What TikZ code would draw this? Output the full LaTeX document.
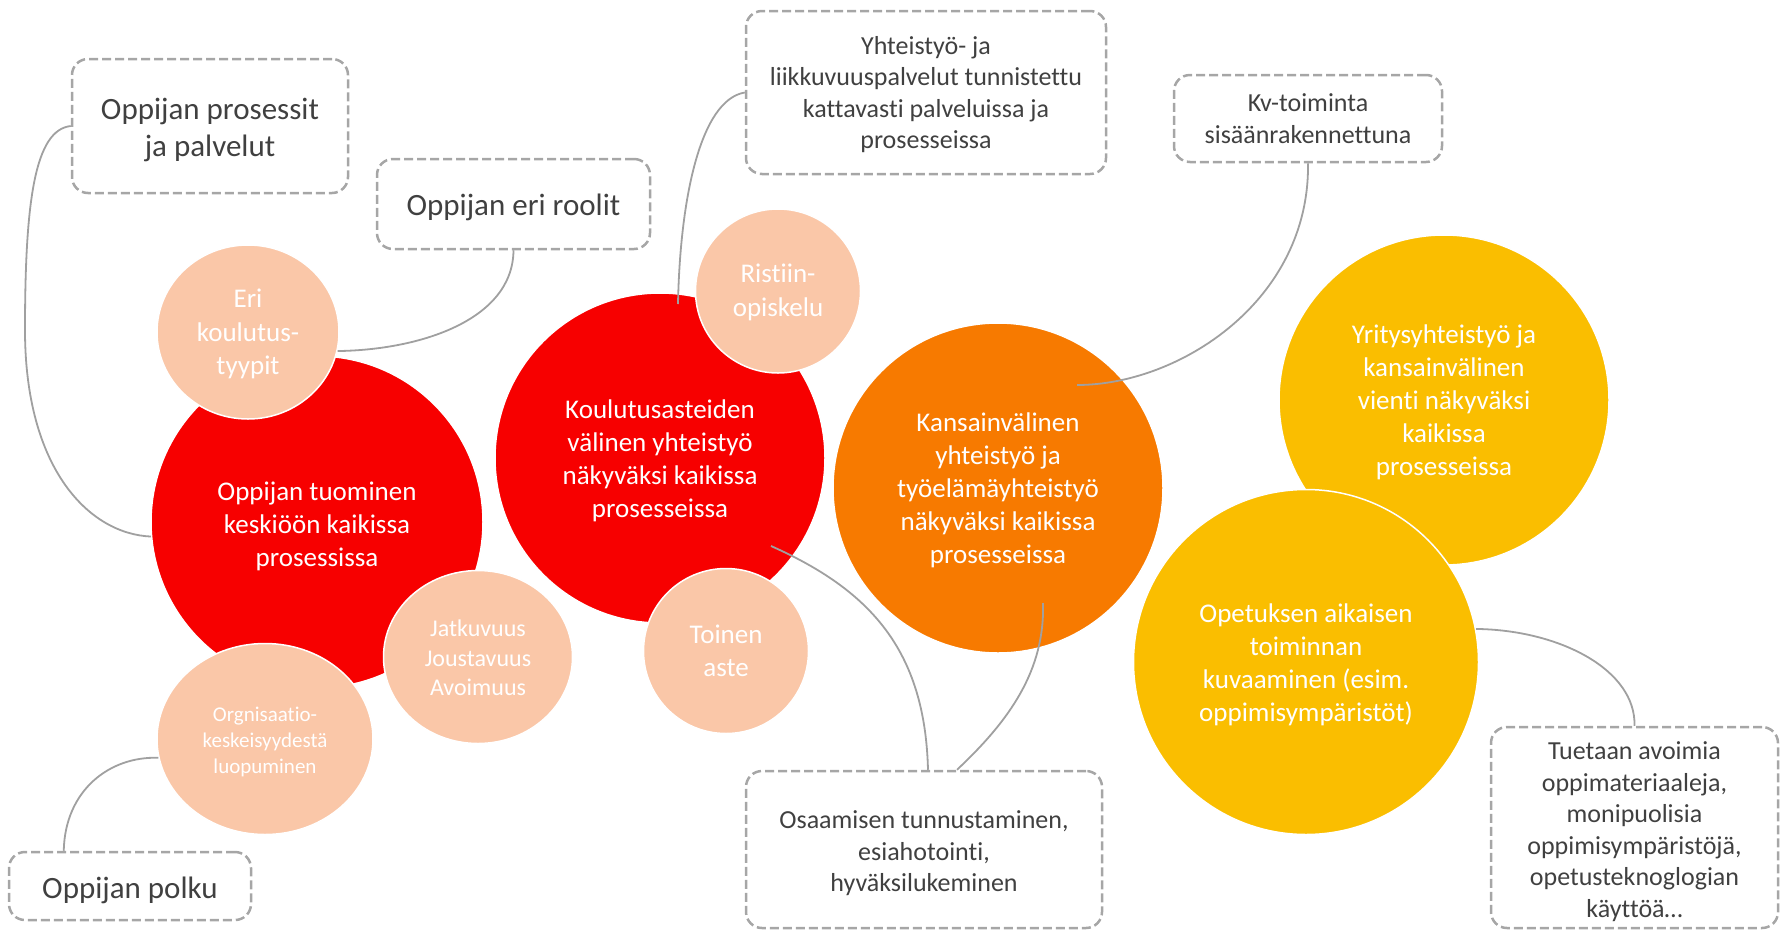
\documentclass[tikz,border=0pt]{standalone}
\usepackage{fontspec}
\setmainfont[Ligatures=NoCommon]{Carlito}
\usetikzlibrary{shapes.geometric}
\definecolor{cred}{RGB}{247,0,0}
\definecolor{corange}{RGB}{247,122,0}
\definecolor{cyellow}{RGB}{250,190,0}
\definecolor{cpeach}{RGB}{250,199,168}
\definecolor{cboxline}{RGB}{166,166,166}
\definecolor{ctext}{RGB}{64,64,64}
\definecolor{clink}{RGB}{160,160,160}
\newcommand{\mytxt}[2][3pt]{\raisebox{-#1}[\height][\depth]{\begin{tabular}{@{}c@{}}#2\end{tabular}}}
\begin{document}
\begin{tikzpicture}[x=1pt,y=-1pt,
 bigc/.style={circle, draw=white, line width=1.5pt, inner sep=0pt, text=white, font=\fontsize{27}{33}\selectfont},
 smallc/.style={ellipse, fill=cpeach, draw=white, line width=1.5pt, inner sep=0pt, text=white, font=\fontsize{27}{33.5}\selectfont},
 dbox/.style={rectangle, rounded corners=16pt, draw=cboxline, dash pattern=on 9pt off 4pt, line width=2.5pt, text=ctext, inner sep=0pt},
 bigtxt/.style={font=\fontsize{31}{37.5}\selectfont},
 smalltxt/.style={font=\fontsize{26}{31.5}\selectfont},
 link/.style={draw=clink, line width=1.8pt}
]
\useasboundingbox (0,0) rectangle (1781,930);
% big circles
\node[bigc, fill=cred, minimum size=332] (red1) at (317,522) {\mytxt[4.5pt]{Oppijan tuominen\\keskiöön kaikissa\\prosessissa}};
\node[bigc, fill=cred, minimum size=330] (red2) at (660,458) {\mytxt[3.5pt]{Koulutusasteiden\\välinen yhteistyö\\näkyväksi kaikissa\\prosesseissa}};
\node[bigc, fill=corange, minimum size=330] (orange) at (998,488) {\mytxt[2.5pt]{Kansainvälinen\\yhteistyö ja\\työelämäyhteistyö\\näkyväksi kaikissa\\prosesseissa}};
\node[bigc, fill=cyellow, minimum size=330] (ytop) at (1444,400) {\mytxt[2.5pt]{Yritysyhteistyö ja\\kansainvälinen\\vienti näkyväksi\\kaikissa\\prosesseissa}};
\node[bigc, fill=cyellow, minimum size=345] (ybot) at (1306,662) {\mytxt[3.5pt]{Opetuksen aikaisen\\toiminnan\\kuvaaminen (esim.\\oppimisympäristöt)}};
% small circles
\node[smallc, minimum width=182, minimum height=174] (eri) at (248,332) {\mytxt[2.5pt]{Eri\\koulutus-\\tyypit}};
\node[smallc, minimum width=165, minimum height=164] (ristiin) at (778,291) {\mytxt[2pt]{Ristiin-\\opiskelu}};
\node[smallc, minimum width=165, minimum height=165] (toinen) at (726,651) {\mytxt[2.5pt]{Toinen\\aste}};
\node[smallc, minimum width=189, minimum height=173, font=\fontsize{24}{29.5}\selectfont] (jatk) at (478,657) {\mytxt[3.5pt]{Jatkuvuus\\Joustavuus\\Avoimuus}};
\node[smallc, minimum width=216, minimum height=191, font=\fontsize{21}{26}\selectfont] (org) at (265,739) {\mytxt[3pt]{Orgnisaatio-\\keskeisyydestä\\luopuminen}};
% boxes
\node[dbox, bigtxt, minimum width=276, minimum height=134] (box1) at (210,126) {\mytxt[4.5pt]{Oppijan prosessit\\ja palvelut}};
\node[dbox, bigtxt, minimum width=273, minimum height=90] (roolit) at (513.5,204) {\mytxt[3.5pt]{Oppijan eri roolit}};
\node[dbox, smalltxt, minimum width=360, minimum height=163] (yht) at (926,92.5) {\mytxt[2.5pt]{Yhteistyö- ja\\liikkuvuuspalvelut tunnistettu\\kattavasti palveluissa ja\\prosesseissa}};
\node[dbox, smalltxt, minimum width=268, minimum height=87] (kv) at (1308,118.5) {\mytxt[2.5pt]{Kv-toiminta\\sisäänrakennettuna}};
\node[dbox, bigtxt, minimum width=242, minimum height=68] (polku) at (130,886) {\mytxt[4.5pt]{Oppijan polku}};
\node[dbox, smalltxt, minimum width=356, minimum height=157] (osa) at (924,849.5) {\mytxt[4.5pt]{Osaamisen tunnustaminen,\\esiahotointi,\\hyväksilukeminen}};
\node[dbox, smalltxt, minimum width=287, minimum height=201] (tue) at (1634.5,827.5) {\mytxt[4.5pt]{Tuetaan avoimia\\oppimateriaaleja,\\monipuolisia\\oppimisympäristöjä,\\opetusteknoglogian\\käyttöä…}};
% free ends inside circles
\coordinate (c3) at (678,304);
\coordinate (c4) at (1077,385);
\coordinate (c6) at (771,546);
\coordinate (c7) at (1043,603);
% connectors
\draw[link] (box1.west) .. controls (35,130) and (25,200) .. (25,330) .. controls (25,470) and (90,534) .. (red1.185);
\draw[link] (roolit.south) .. controls (513,320) and (420,350) .. (eri.-12);
\draw[link] (yht.west) .. controls (700,100) and (680,200) .. (c3);
\draw[link] (kv.south) .. controls (1310,300) and (1180,385) .. (c4);
\draw[link] ([xshift=56pt]polku.north west) .. controls (65,790) and (110,756) .. (org.190);
\draw[link] ([xshift=4pt]osa.north) .. controls (925,650) and (870,590) .. (c6);
\draw[link] ([xshift=33pt]osa.north) .. controls (1010,720) and (1045,670) .. (c7);
\draw[link] (ybot.11) .. controls (1560,630) and (1636,670) .. (tue.north);
\end{tikzpicture}
\end{document}
